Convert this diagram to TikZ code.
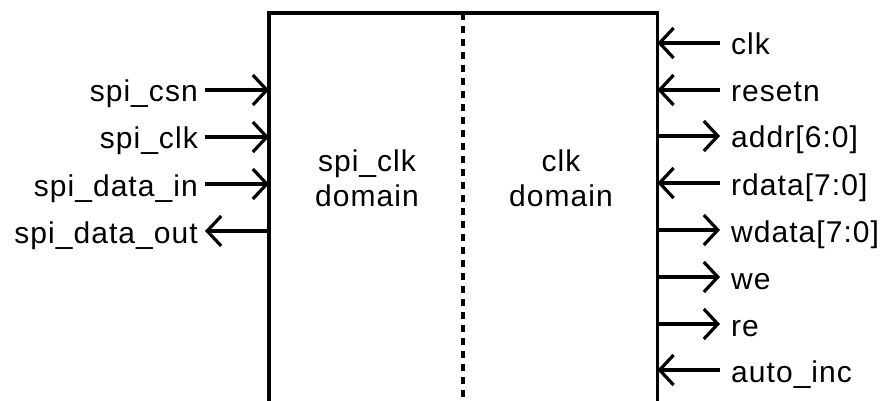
\documentclass[tikz,border=0pt]{standalone}
\usepackage{fontspec}
\setmainfont{Liberation Sans}[LetterSpace=3.5]
\usetikzlibrary{arrows.meta}
\tikzset{
  lbl/.style={font=\fontsize{30}{35}\selectfont, text height=24pt, text depth=0pt, inner ysep=0pt},
  lft/.style={lbl, anchor=east, inner xsep=7pt},
  rgt/.style={lbl, anchor=west, inner xsep=11pt},
  sig/.style={line width=3.2pt, -{Straight Barb[length=14pt,width=30pt]}},
  boxline/.style={line width=3.5pt},
  divider/.style={line width=3.5pt, dash pattern=on 7pt off 6pt},
  domtxt/.style={font=\fontsize{30}{35}\selectfont, align=center, inner sep=0pt, anchor=north}
}
\begin{document}
\begin{tikzpicture}[x=1pt,y=-1pt]
\useasboundingbox (0,0) rectangle (886,401);
\clip (0,0) rectangle (886,401);
\node[minimum width=388pt, minimum height=420pt, anchor=north west, inner sep=0pt] (box) at (269,13) {};
\draw[boxline] (box.south west) -- (box.north west) -- (box.north east) -- (box.south east);
\draw[divider] (box.north) -- (box.south);
\node[domtxt] (ldom) at (367,150) {spi\_clk\\domain};
\node[domtxt] (rdom) at (561,150) {clk\\domain};
% left side
\node[lft] (csn) at (205,90) {spi\_csn};
\node[lft] (sclk) at (205,137) {spi\_clk};
\node[lft] (sdin) at (205,184) {spi\_data\_in};
\node[lft] (sdout) at (205,231) {spi\_data\_out};
\draw[sig] (csn.east) -- (csn.east -| box.west);
\draw[sig] (sclk.east) -- (sclk.east -| box.west);
\draw[sig] (sdin.east) -- (sdin.east -| box.west);
\draw[sig] (sdout.east -| box.west) -- (sdout.east);
% right side
\node[rgt] (clk) at (720,43) {clk};
\node[rgt] (rstn) at (720,90) {resetn};
\node[rgt] (addr) at (720,136) {addr[6:0]};
\node[rgt] (rdata) at (720,183) {rdata[7:0]};
\node[rgt] (wdata) at (720,230) {wdata[7:0]};
\node[rgt] (we) at (720,277) {we};
\node[rgt] (re) at (720,324) {re};
\node[rgt] (ainc) at (720,370) {auto\_inc};
\draw[sig] (clk.west) -- (clk.west -| box.east);
\draw[sig] (rstn.west) -- (rstn.west -| box.east);
\draw[sig] (box.east |- addr.west) -- (addr.west);
\draw[sig] (rdata.west) -- (rdata.west -| box.east);
\draw[sig] (box.east |- wdata.west) -- (wdata.west);
\draw[sig] (box.east |- we.west) -- (we.west);
\draw[sig] (box.east |- re.west) -- (re.west);
\draw[sig] (ainc.west) -- (ainc.west -| box.east);
\end{tikzpicture}
\end{document}
